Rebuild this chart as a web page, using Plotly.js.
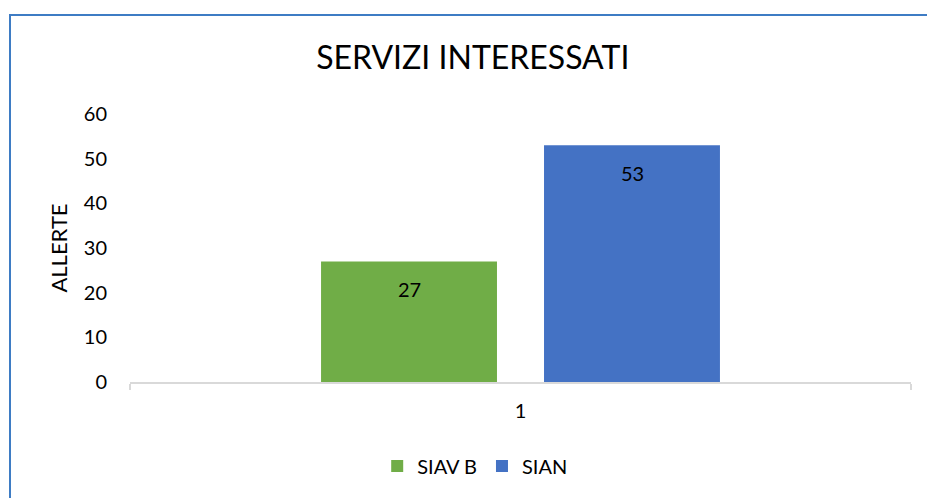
<!DOCTYPE html>
<html>
<head>
<meta charset="utf-8">
<script src="https://cdn.plot.ly/plotly-3.0.1.min.js"></script>
<style>
  html, body { margin: 0; padding: 0; width: 927px; height: 498px; overflow: hidden; background: #fff; }
  #chart { width: 927px; height: 498px; position: absolute; left: 0; top: 0; }
  #frame { position: absolute; left: 8.5px; top: 13.5px; width: 1000px; height: 1000px;
           border-left: 2px solid #3e7cc4; border-top: 2px solid #3e7cc4; pointer-events: none; }
</style>
</head>
<body>
<div id="chart"></div>
<div id="frame"></div>
<script>
// ---- data ----
const categories = ['1'];
const seriesNames = ['SIAV B', 'SIAN'];
const siavB = [27];
const sian = [53];
const yTickValues = [0, 10, 20, 30, 40, 50, 60];
const chartTitle = 'SERVIZI INTERESSATI';
const yTitle = 'ALLERTE';

const FONT = 'Lato, "Open Sans", sans-serif';
const colors = ['#70ad47', '#4472c4'];
const seriesValues = [siavB, sian];

const traces = seriesNames.map((name, i) => ({
  type: 'bar',
  name: name,
  x: categories,
  y: seriesValues[i],
  marker: { color: colors[i] },
  hoverinfo: 'none'
}));

// data labels, positioned from data values through the axes
const shifts = [-111.5, 111.5];
const annotations = [];
seriesValues.forEach((vals, i) => {
  vals.forEach((v, j) => {
    annotations.push({
      xref: 'x', yref: 'y', x: j, y: v,
      text: String(v), showarrow: false,
      xshift: shifts[i], yshift: -28, yanchor: 'middle',
      font: { family: FONT, size: 20, color: '#000' }
    });
  });
});

const layout = {
  width: 927, height: 498,
  margin: { l: 130, r: 16, t: 114, b: 116 },
  paper_bgcolor: '#fff', plot_bgcolor: '#fff',
  font: { family: FONT, color: '#000' },
  title: {
    text: chartTitle,
    font: { family: FONT, size: 32, color: '#000' },
    xref: 'container', x: 0.510, xanchor: 'center',
    yref: 'container', y: 0.884, yanchor: 'middle'
  },
  barmode: 'group',
  bargap: 0.429,
  bargroupgap: 0.211,
  showlegend: true,
  legend: {
    orientation: 'h', x: 0.442, xanchor: 'center', y: -0.313, yanchor: 'middle',
    font: { family: FONT, size: 20, color: '#000' },
    traceorder: 'normal'
  },
  xaxis: {
    type: 'category',
    range: [-0.5, categories.length - 0.5],
    showline: true, linecolor: '#d9d9d9', linewidth: 1.5,
    ticks: 'outside', tickson: 'boundaries', ticklen: 6, tickcolor: '#d9d9d9', tickwidth: 1.5,
    showgrid: false, zeroline: false,
    tickfont: { family: FONT, size: 20, color: '#000' },
    ticklabelstandoff: 10
  },
  yaxis: {
    range: [0, 60],
    tickvals: yTickValues,
    showline: false, showgrid: false, zeroline: false,
    ticks: '',
    tickfont: { family: FONT, size: 20, color: '#000' },
    ticklabelstandoff: 22,
    title: { text: yTitle, font: { family: FONT, size: 22, color: '#000' }, standoff: 10 },
    automargin: false
  },
  annotations: annotations
};

Plotly.newPlot('chart', traces, layout, { displayModeBar: false, staticPlot: true });
</script>
</body>
</html>
